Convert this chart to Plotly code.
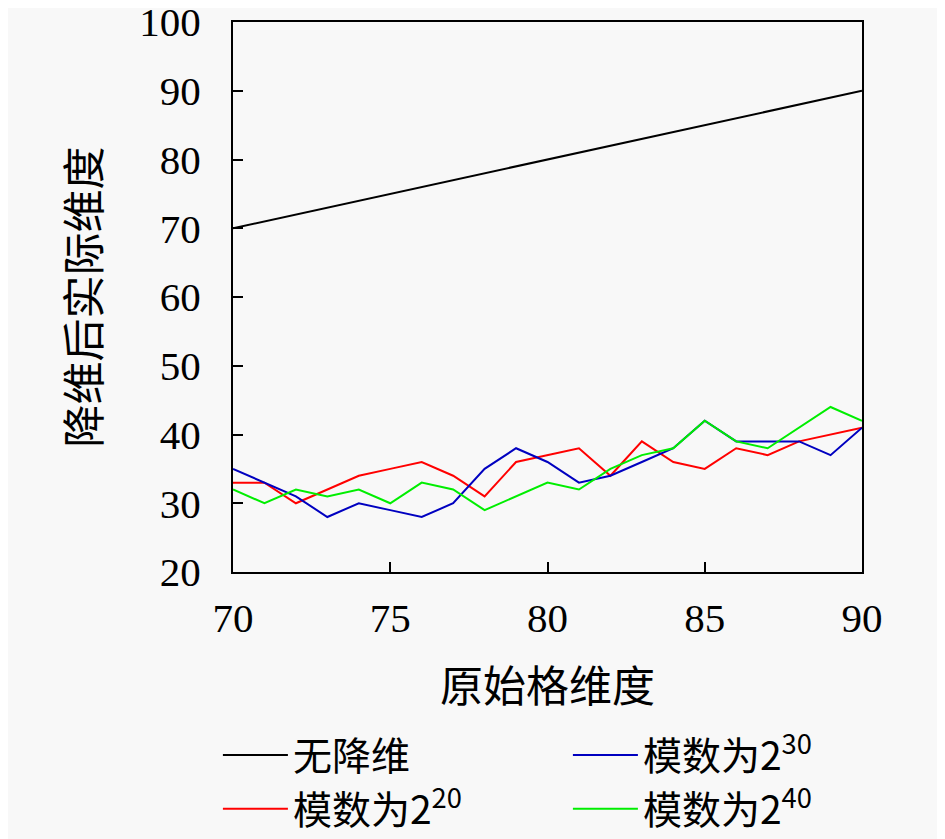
import plotly.graph_objects as go

# dados
x_dim = list(range(70, 91))
sem_reducao = list(range(70, 91))
mod_2_20 = [33, 33, 30, 32, 34, 35, 36, 34, 31, 36, 37, 38, 34, 39, 36, 35, 38, 37, 39, 40, 41]
mod_2_30 = [35, 33, 31, 28, 30, 29, 28, 30, 35, 38, 36, 33, 34, 36, 38, 42, 39, 39, 39, 37, 41]
mod_2_40 = [32, 30, 32, 31, 32, 30, 33, 32, 29, 31, 33, 32, 35, 37, 38, 42, 39, 38, 41, 44, 42]

serif = "Liberation Serif, DejaVu Serif, serif"
cjk = "Noto Sans CJK SC, Noto Sans, sans-serif"

fig = go.Figure()
series = [
    ("无降维", sem_reducao, "black", 1),
    ("模数为2<sup>20</sup>", mod_2_20, "red", 3),
    ("模数为2<sup>30</sup>", mod_2_30, "#0000c0", 2),
    ("模数为2<sup>40</sup>", mod_2_40, "#00ee00", 4),
]
for nome, ys, cor, rank in series:
    fig.add_trace(go.Scatter(x=x_dim, y=ys, name=nome, mode="lines",
                             line=dict(color=cor, width=2), legendrank=rank))

fig.update_layout(
    width=945, height=839,
    margin=dict(l=225, r=91, t=14, b=275, autoexpand=False),
    paper_bgcolor="#f8f8f8", plot_bgcolor="#f8f8f8",
    font=dict(family=cjk, size=30, color="black"),
    showlegend=True,
    legend=dict(orientation="h", x=-0.024, xanchor="left", y=-0.275, yanchor="top",
                entrywidth=270, entrywidthmode="pixels", traceorder="normal",
                font=dict(family=cjk, size=39), bgcolor="rgba(0,0,0,0)",
                tracegroupgap=0, itemwidth=65),
)
fig.update_xaxes(range=[70, 90], tickvals=[70, 75, 80, 85, 90], automargin=False,
                 ticks="inside", ticklen=10, tickwidth=2, tickcolor="black",
                 showline=True, linewidth=2, linecolor="black", mirror=True,
                 showgrid=False, zeroline=False, ticklabeloverflow="allow",
                 tickfont=dict(family=serif, size=41), ticklabelstandoff=9,
                 title=dict(text="原始格维度", font=dict(family=cjk, size=43), standoff=32))
fig.update_yaxes(range=[20, 100], tickvals=list(range(20, 101, 10)), automargin=False,
                 ticks="inside", ticklen=10, tickwidth=2, tickcolor="black",
                 showline=True, linewidth=2, linecolor="black", mirror=True,
                 showgrid=False, zeroline=False, ticklabeloverflow="allow",
                 tickfont=dict(family=serif, size=41), ticklabelstandoff=22,
                 title=dict(text="降维后实际维度", font=dict(family=cjk, size=43), standoff=25))

fig.write_html("out.html")
